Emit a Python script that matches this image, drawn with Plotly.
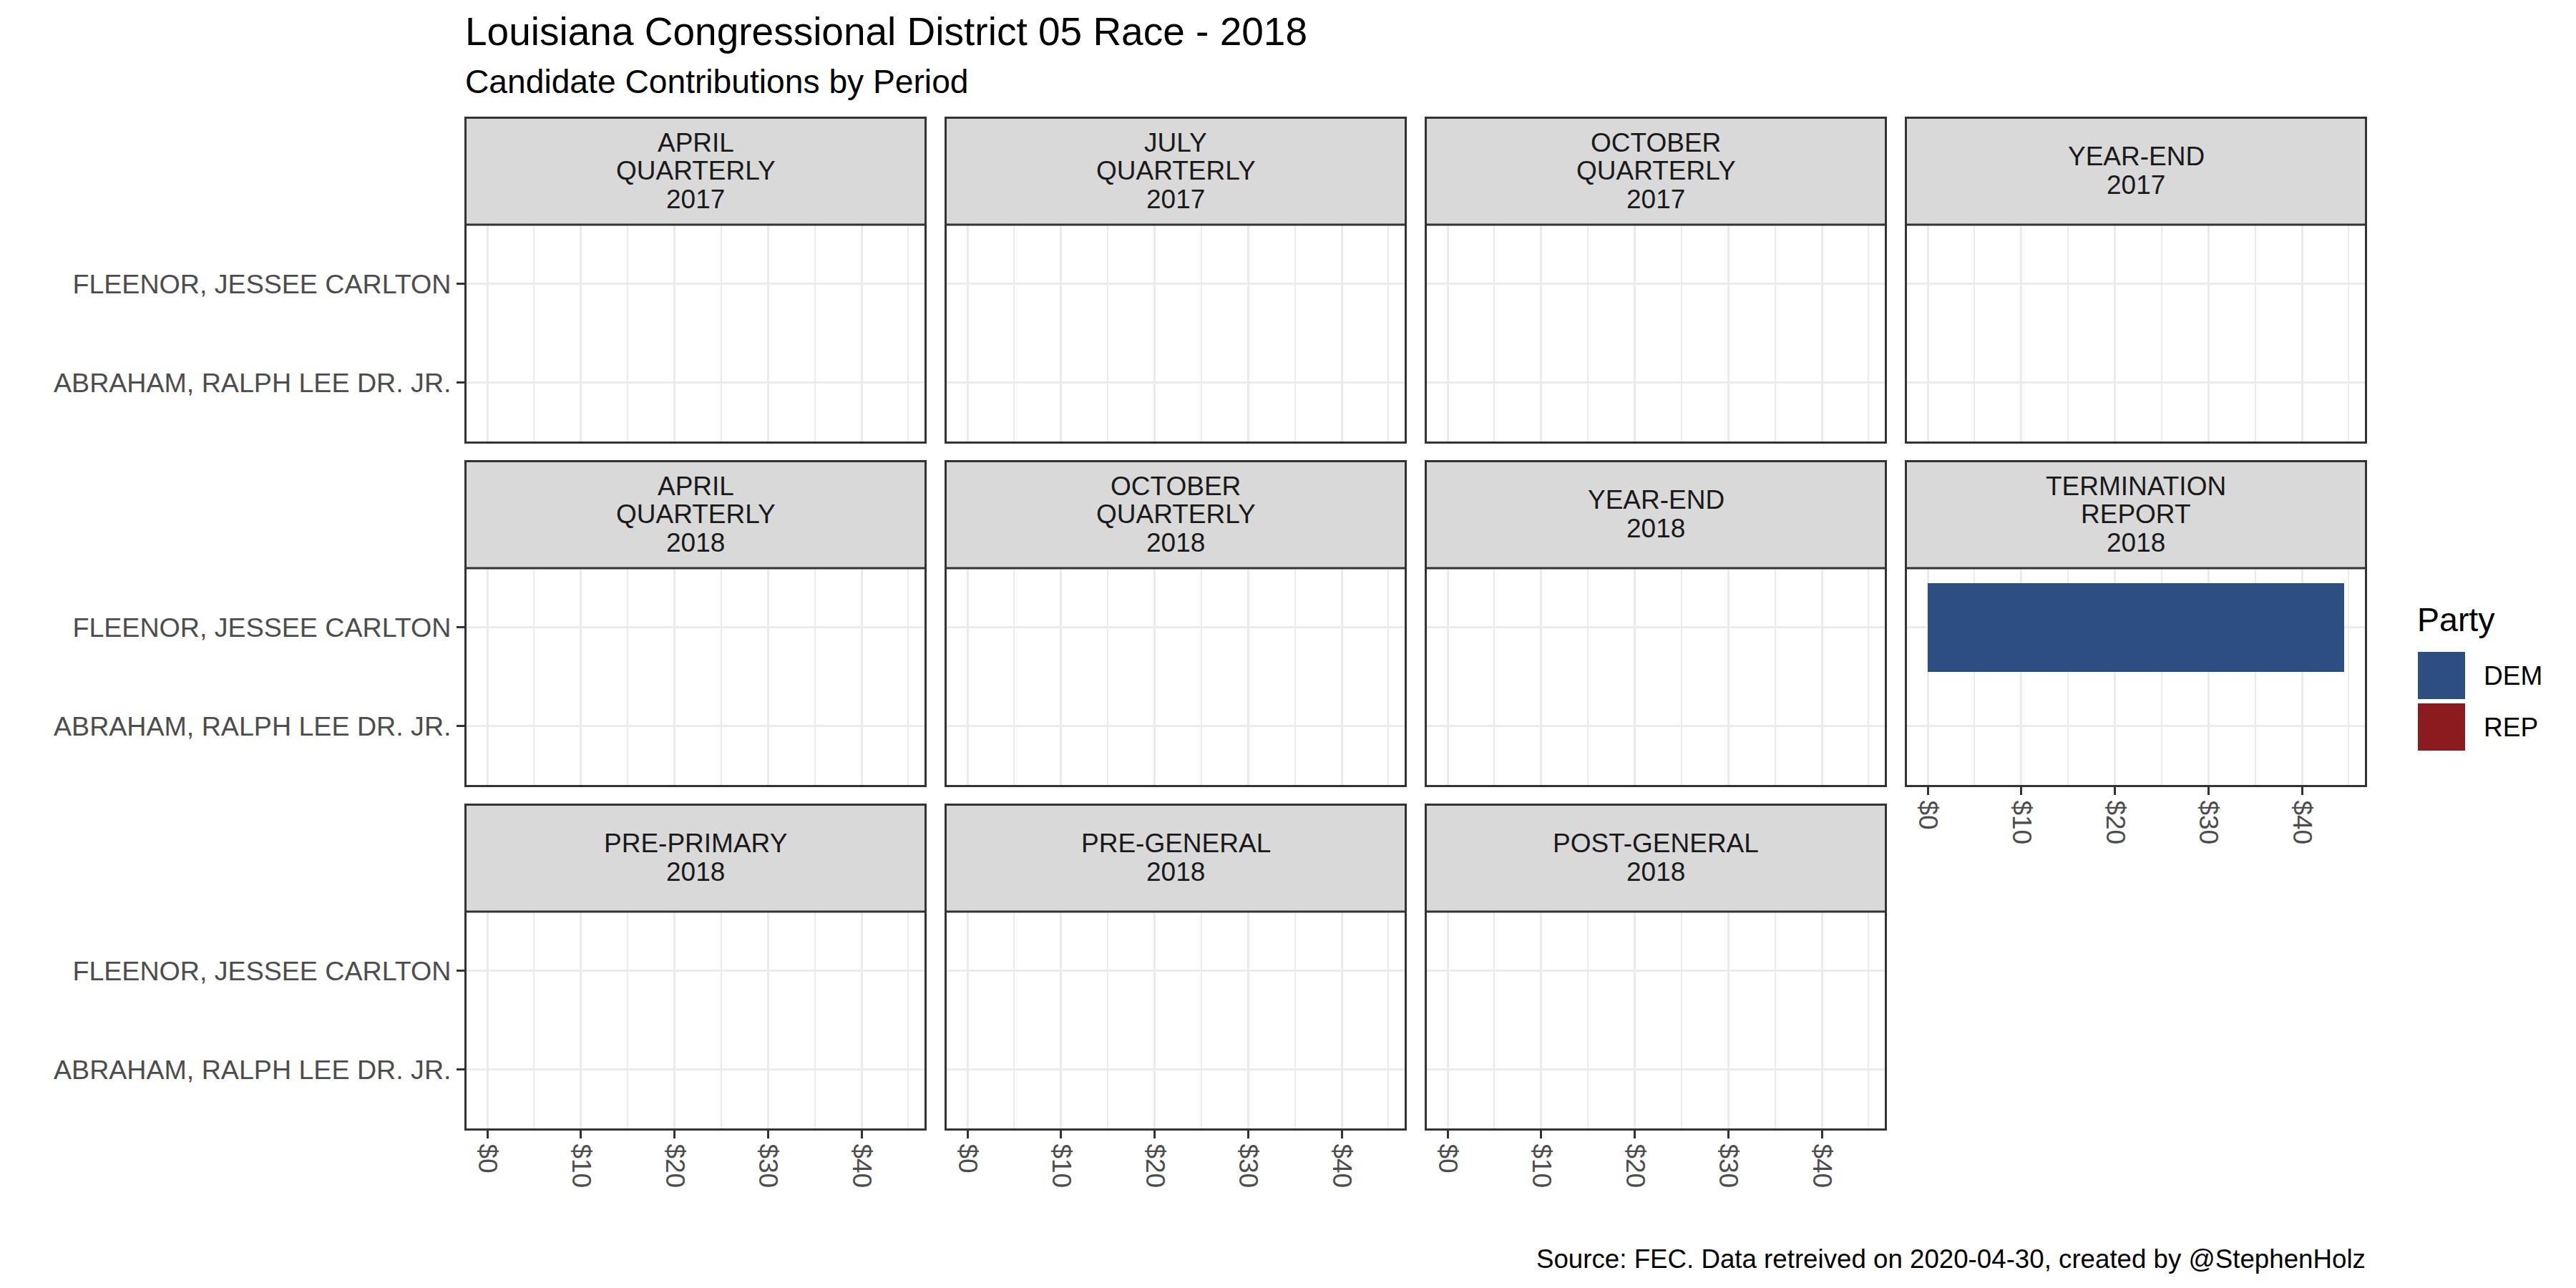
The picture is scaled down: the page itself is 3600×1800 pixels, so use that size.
import plotly.graph_objects as go

# ---------------- data ----------------
periods = [
    "APRIL\nQUARTERLY\n2017", "JULY\nQUARTERLY\n2017", "OCTOBER\nQUARTERLY\n2017", "YEAR-END\n2017",
    "APRIL\nQUARTERLY\n2018", "OCTOBER\nQUARTERLY\n2018", "YEAR-END\n2018", "TERMINATION\nREPORT\n2018",
    "PRE-PRIMARY\n2018", "PRE-GENERAL\n2018", "POST-GENERAL\n2018",
]
candidates = ["ABRAHAM, RALPH LEE DR. JR.", "FLEENOR, JESSEE CARLTON"]
candidate_party = ["REP", "DEM"]
contrib_period = ["TERMINATION\nREPORT\n2018"]
contrib_candidate = ["FLEENOR, JESSEE CARLTON"]
contrib_amount = [44.5]
parties = ["DEM", "REP"]
party_colors = ["#2D4E80", "#8B1B1E"]
x_tick_values = [0, 10, 20, 30, 40]
x_tick_labels = ["$0", "$10", "$20", "$30", "$40"]
x_minor_values = [5, 15, 25, 35, 45]

title = "Louisiana Congressional District 05 Race - 2018"
subtitle = "Candidate Contributions by Period"
caption = "Source: FEC. Data retreived on 2020-04-30, created by @StephenHolz"

# ---------------- layout geometry (pixels) ----------------
W, H = 3600, 1800
OFF = 8  # page body margin compensation
FONT = "Liberation Sans"
col_left = [649, 1320, 1991, 2662]
col_w = 646
strip_top = [163, 643, 1123]
strip_h = 151
panel_h = 306
BW = 3  # border width


def px(x):
    return (x - OFF) / W


def py(y):
    return 1 - (y - OFF) / H


color_of = dict(zip(parties, party_colors))
xmax = max(contrib_amount)
xrange = [-0.05 * xmax, 1.05 * xmax]

ncols = 4
fig = go.Figure()
shapes = []
annotations = []

for i, per in enumerate(periods):
    r, c = divmod(i, ncols)
    ax_id = "" if i == 0 else str(i + 1)
    left = col_left[c]
    right = left + col_w
    s_top = strip_top[r]
    s_bot = s_top + strip_h
    p_bot = s_bot + panel_h

    vals = []
    for cand in candidates:
        v = None
        for pp, cc, aa in zip(contrib_period, contrib_candidate, contrib_amount):
            if pp == per and cc == cand:
                v = aa
        vals.append(v)
    colors = [color_of[p] for p in candidate_party]

    fig.add_trace(go.Bar(
        x=vals, y=candidates, orientation="h", width=0.9,
        marker=dict(color=colors, line=dict(width=0)),
        showlegend=False, xaxis="x" + ax_id, yaxis="y" + ax_id,
    ))

    show_x = (i + ncols) >= len(periods)
    show_y = c == 0

    xa = dict(
        domain=[px(left + BW), px(right - BW)], anchor="y" + ax_id,
        range=xrange, tickmode="array", tickvals=x_tick_values, ticktext=x_tick_labels,
        showgrid=True, gridcolor="#EBEBEB", gridwidth=3.3, zeroline=False,
        minor=dict(tickvals=x_minor_values, showgrid=True, gridcolor="#EBEBEB", gridwidth=1.7, ticks=""),
        showline=True, linecolor="#333333", linewidth=BW, mirror=True,
        ticks="outside" if show_x else "", ticklen=11, tickwidth=3.3, tickcolor="#333333",
        showticklabels=show_x, tickangle=90,
        tickfont=dict(family=FONT, size=37, color="#4D4D4D"),
        fixedrange=True,
    )
    ya = dict(
        domain=[py(p_bot - BW), py(s_bot)], anchor="x" + ax_id,
        type="category", categoryorder="array", categoryarray=candidates,
        range=[-0.6, 1.6],
        showgrid=True, gridcolor="#EBEBEB", gridwidth=3.3, zeroline=False,
        showline=True, linecolor="#333333", linewidth=BW, mirror=True,
        ticks="outside" if show_y else "", ticklen=11, tickwidth=3.3, tickcolor="#333333",
        showticklabels=show_y,
        tickfont=dict(family=FONT, size=37.6, color="#4D4D4D"),
        fixedrange=True,
    )
    fig.update_layout({"xaxis" + ax_id: xa, "yaxis" + ax_id: ya})

    # strip
    shapes.append(dict(
        type="rect", xref="paper", yref="paper",
        x0=px(left + BW / 2), x1=px(right - BW / 2),
        y0=py(s_top + BW / 2), y1=py(s_bot),
        fillcolor="#D9D9D9", line=dict(color="#333333", width=BW), layer="above",
    ))
    lines = per.split("\n")
    yc = (s_top + s_bot) / 2
    pitch = 39.5
    for k, ln in enumerate(lines):
        yl = yc + (k - (len(lines) - 1) / 2) * pitch
        annotations.append(dict(
            text=ln, xref="paper", yref="paper", x=px((left + right) / 2), y=py(yl),
            xanchor="center", yanchor="middle", showarrow=False,
            font=dict(family=FONT, size=37, color="#1A1A1A"),
        ))

# titles
annotations.append(dict(text=title, xref="paper", yref="paper", x=px(648), y=py(44),
                        xanchor="left", yanchor="middle", showarrow=False,
                        font=dict(family=FONT, size=55, color="#000000")))
annotations.append(dict(text=subtitle, xref="paper", yref="paper", x=px(648), y=py(114),
                        xanchor="left", yanchor="middle", showarrow=False,
                        font=dict(family=FONT, size=46.2, color="#000000")))
annotations.append(dict(text=caption, xref="paper", yref="paper", x=px(3308), y=py(1759),
                        xanchor="right", yanchor="middle", showarrow=False,
                        font=dict(family=FONT, size=36.7, color="#000000")))

# legend (manual, ggplot-style keys)
annotations.append(dict(text="Party", xref="paper", yref="paper", x=px(3376), y=py(866),
                        xanchor="left", yanchor="middle", showarrow=False,
                        font=dict(family=FONT, size=46.5, color="#000000")))
key_top = 911
key_size = 66
key_gap = 6
for j, (pname, pcol) in enumerate(zip(parties, party_colors)):
    y0 = key_top + j * (key_size + key_gap)
    shapes.append(dict(type="rect", xref="paper", yref="paper",
                       x0=px(3379), x1=px(3379 + key_size), y0=py(y0), y1=py(y0 + key_size),
                       fillcolor=pcol, line=dict(width=0)))
    annotations.append(dict(text=pname, xref="paper", yref="paper", x=px(3469), y=py(y0 + key_size / 2),
                            xanchor="left", yanchor="middle", showarrow=False,
                            font=dict(family=FONT, size=37, color="#000000")))

fig.update_layout(
    width=W, height=H, autosize=False,
    margin=dict(l=0, r=0, t=0, b=0),
    paper_bgcolor="white", plot_bgcolor="white",
    shapes=shapes, annotations=annotations,
    showlegend=False, bargap=0,
    font=dict(family=FONT),
)

fig.write_html("out.html")
